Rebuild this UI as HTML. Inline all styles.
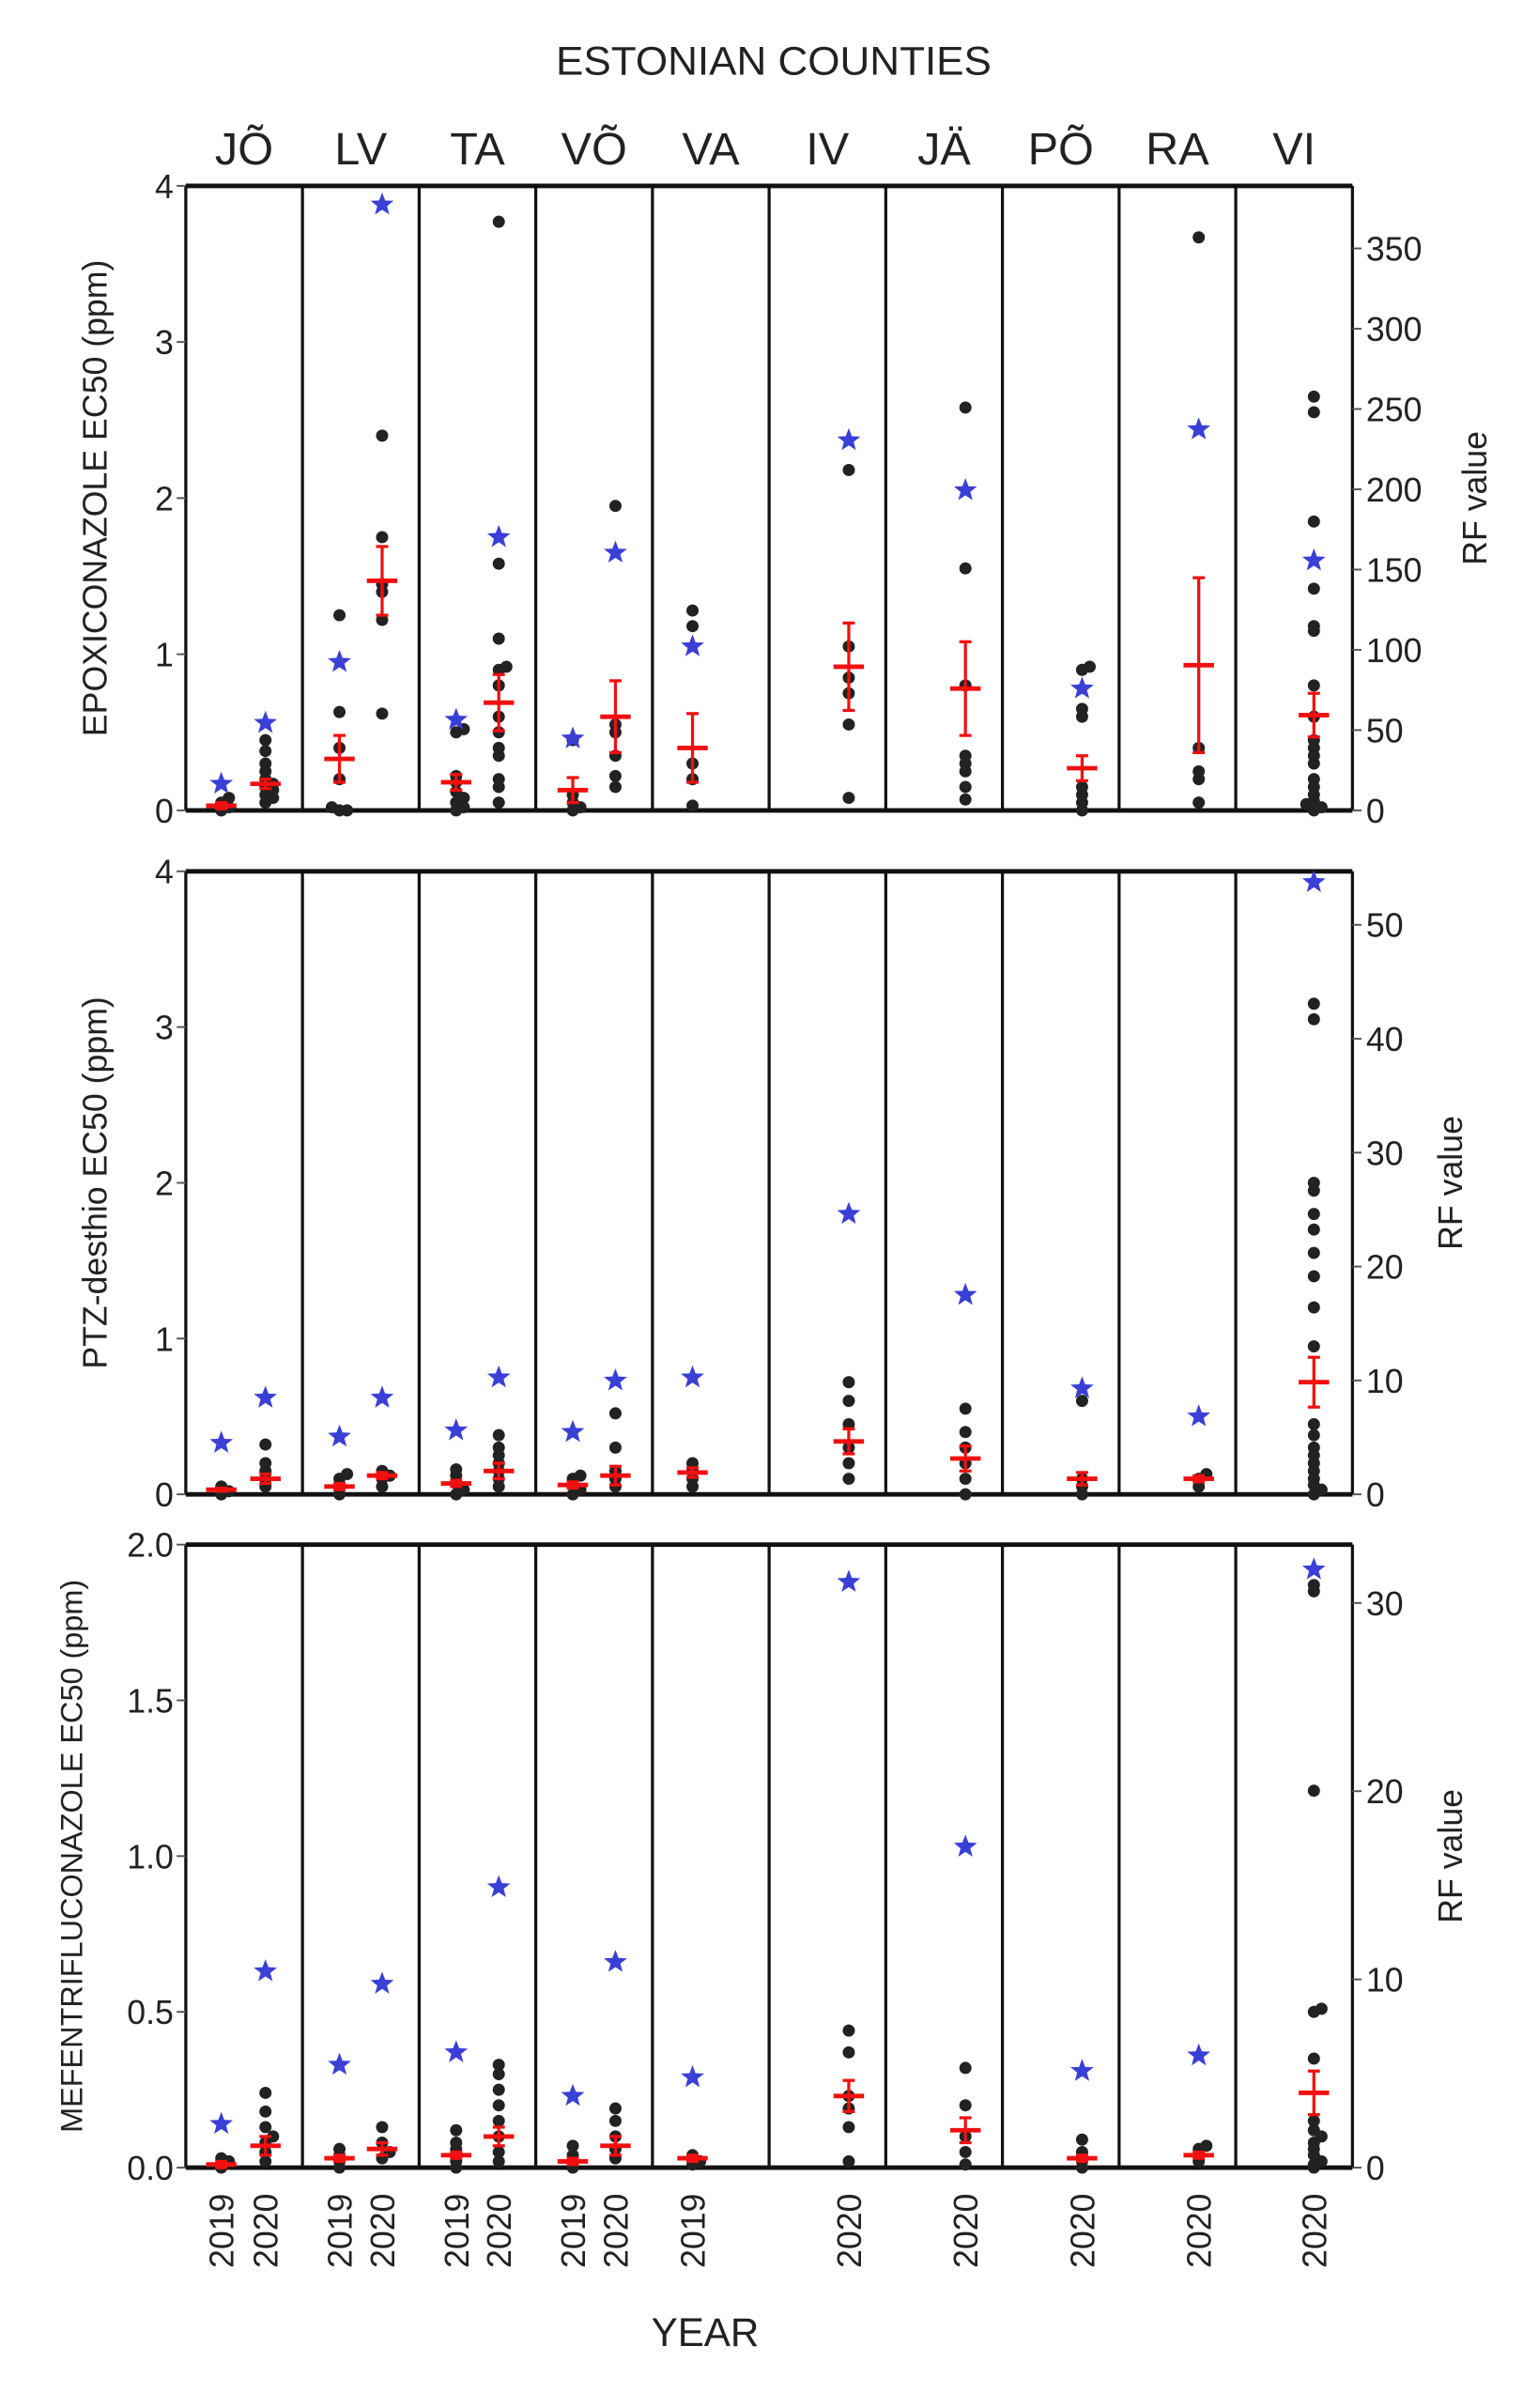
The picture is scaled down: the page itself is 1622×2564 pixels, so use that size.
<!DOCTYPE html>
<html><head><meta charset="utf-8"><style>
html,body{margin:0;padding:0;background:#fff;}
svg{display:block;}
text{font-family:"Liberation Sans",sans-serif;fill:#222;}
</style></head><body>
<svg id="s" width="1622" height="2564" viewBox="0 0 1000 1580.8" preserveAspectRatio="none" xmlns="http://www.w3.org/2000/svg"></svg>
<script>
const S=document.getElementById('s');let h='';
const L=122,R=888,CW=(R-L)/10;
h+='<text x="508" y="49" font-size="26" text-anchor="middle" textLength="286" lengthAdjust="spacingAndGlyphs">ESTONIAN COUNTIES</text>';
const names=['JÕ','LV','TA','VÕ','VA','IV','JÄ','PÕ','RA','VI'];
names.forEach((n,i)=>{h+=`<text x="${L+CW*(i+0.5)}" y="108" font-size="30" text-anchor="middle">${n}</text>`;});
function cx(c,o){return L+CW*(c+0.5)+o;}
const panels=[
{top:122,bot:532,max:4,lt:[0,1,2,3,4],lf:v=>v,rmax:389,rt:[0,50,100,150,200,250,300,350],title:'EPOXICONAZOLE EC50 (ppm)',tfs:22,tx:70,
data:[[0,-15,[0,0.02,0.05,0.08],0.03,0.02,0.17],[0,14,[0.05,0.08,0.1,0.13,0.15,0.17,0.2,0.25,0.3,0.38,0.45],0.17,0.03,0.56],
[1,-14,[0,0,0.02,0.2,0.4,0.63,1.25],0.33,0.15,0.95],[1,14,[0.62,1.22,1.4,1.45,1.75,2.4],1.47,0.22,3.88],
[2,-14,[0,0.02,0.05,0.08,0.12,0.18,0.22,0.5,0.52],0.18,0.05,0.58],[2,14,[0.05,0.15,0.2,0.35,0.4,0.5,0.6,0.8,0.9,0.92,1.1,1.58,3.77],0.69,0.18,1.75],
[3,-14,[0,0.02,0.05,0.1,0.45],0.13,0.08,0.46],[3,14,[0.15,0.22,0.35,0.5,0.55,1.95],0.6,0.23,1.65],
[4,-12,[0.03,0.2,0.3,1.18,1.28],0.4,0.22,1.05],[5,14,[0.08,0.55,0.75,0.85,1.05,2.18],0.92,0.28,2.37],
[6,14,[0.07,0.15,0.25,0.3,0.35,0.8,1.55,2.58],0.78,0.3,2.05],[7,14,[0,0.05,0.1,0.15,0.6,0.65,0.9,0.92],0.27,0.08,0.78],
[8,14,[0.05,0.2,0.25,0.4,3.67],0.93,0.56,2.44],[9,13,[0,0.02,0.04,0.06,0.1,0.15,0.2,0.3,0.35,0.4,0.45,0.6,0.8,1.15,1.18,1.42,1.85,2.55,2.65],0.61,0.14,1.6]]},
{top:572,bot:981,max:4,lt:[0,1,2,3,4],lf:v=>v,rmax:54.7,rt:[0,10,20,30,40,50],title:'PTZ-desthio EC50 (ppm)',tfs:22,tx:70,
data:[[0,-15,[0,0.02,0.05],0.03,0.01,0.33],[0,14,[0.05,0.1,0.15,0.2,0.32],0.1,0.03,0.62],
[1,-14,[0,0.05,0.1,0.13],0.05,0.02,0.37],[1,14,[0.05,0.1,0.12,0.15],0.12,0.02,0.62],
[2,-14,[0,0.03,0.07,0.12,0.16],0.07,0.02,0.41],[2,14,[0.05,0.1,0.15,0.2,0.25,0.3,0.38],0.15,0.05,0.75],
[3,-14,[0,0.03,0.1,0.12],0.06,0.02,0.4],[3,14,[0.05,0.1,0.15,0.3,0.52],0.12,0.06,0.73],
[4,-12,[0.05,0.1,0.15,0.2],0.14,0.03,0.75],[5,14,[0.1,0.2,0.3,0.45,0.6,0.72],0.34,0.08,1.8],
[6,14,[0,0.1,0.2,0.3,0.4,0.55],0.23,0.08,1.28],[7,14,[0,0.05,0.1,0.6],0.1,0.04,0.68],
[8,14,[0.05,0.1,0.13],0.1,0.02,0.5],[9,13,[0,0.03,0.06,0.1,0.15,0.2,0.25,0.3,0.38,0.45,0.95,1.2,1.4,1.55,1.7,1.8,1.95,2.0,3.05,3.15],0.72,0.16,3.93]]},
{top:1014,bot:1423,max:2,lt:[0,0.5,1,1.5,2],lf:v=>v.toFixed(1),rmax:33.1,rt:[0,10,20,30],title:'MEFENTRIFLUCONAZOLE EC50 (ppm)',tfs:20,tx:54,
data:[[0,-15,[0,0.01,0.02,0.03],0.01,0.01,0.14],[0,14,[0.02,0.05,0.08,0.1,0.13,0.18,0.24],0.07,0.03,0.63],
[1,-14,[0,0.02,0.04,0.06],0.03,0.01,0.33],[1,14,[0.03,0.05,0.08,0.13],0.06,0.02,0.59],
[2,-14,[0,0.02,0.04,0.06,0.08,0.12],0.04,0.01,0.37],[2,14,[0.02,0.05,0.1,0.15,0.2,0.25,0.3,0.33],0.1,0.03,0.9],
[3,-14,[0,0.02,0.04,0.07],0.02,0.01,0.23],[3,14,[0.03,0.06,0.1,0.15,0.19],0.07,0.03,0.66],
[4,-12,[0.01,0.02,0.04],0.03,0.01,0.29],[5,14,[0.02,0.13,0.19,0.23,0.37,0.44],0.23,0.05,1.88],
[6,14,[0.01,0.05,0.1,0.2,0.32],0.12,0.04,1.03],[7,14,[0,0.02,0.05,0.09],0.03,0.01,0.31],
[8,14,[0.02,0.04,0.06,0.07],0.04,0.01,0.36],[9,13,[0,0.01,0.02,0.04,0.06,0.08,0.1,0.12,0.15,0.35,0.5,0.51,1.21,1.85,1.87],0.24,0.07,1.92]]}];
function star(x,y,r){let p=[];for(let i=0;i<10;i++){const a=-Math.PI/2+i*Math.PI/5,rr=i%2?r*0.42:r;p.push((x+rr*Math.cos(a)).toFixed(1)+','+(y+rr*Math.sin(a)).toFixed(1));}return `<polygon points="${p.join(' ')}" fill="#3a3fd6"/>`;}
panels.forEach(P=>{
 const Y=v=>P.bot-(P.bot-P.top)*v/P.max;
 for(let i=1;i<10;i++){const x=L+CW*i;h+=`<line x1="${x}" y1="${P.top}" x2="${x}" y2="${P.bot}" stroke="#111" stroke-width="2"/>`;}
 h+=`<line x1="${L}" y1="${P.top}" x2="${L}" y2="${P.bot}" stroke="#111" stroke-width="2"/>`;
 h+=`<line x1="${R}" y1="${P.top}" x2="${R}" y2="${P.bot}" stroke="#111" stroke-width="2"/>`;
 h+=`<line x1="${L}" y1="${P.top}" x2="${R}" y2="${P.top}" stroke="#111" stroke-width="3"/>`;
 h+=`<line x1="${L}" y1="${P.bot}" x2="${R}" y2="${P.bot}" stroke="#111" stroke-width="3"/>`;
 P.lt.forEach(v=>{const y=Y(v);h+=`<line x1="${L-6}" y1="${y}" x2="${L}" y2="${y}" stroke="#555" stroke-width="1.2"/><text x="${L-8}" y="${y+8}" font-size="22" text-anchor="end">${P.lf(v)}</text>`;});
 P.rt.forEach(v=>{const y=P.bot-(P.bot-P.top)*v/P.rmax;h+=`<line x1="${R}" y1="${y}" x2="${R+6}" y2="${y}" stroke="#555" stroke-width="1.2"/><text x="${R+9}" y="${y+8}" font-size="22">${v}</text>`;});
 const mid=(P.top+P.bot)/2;
 h+=`<text transform="translate(${P.tx},${mid}) rotate(-90)" font-size="${P.tfs}" text-anchor="middle">${P.title}</text>`;
 h+=`<text transform="translate(${P===panels[0]?976:960},${mid}) rotate(-90)" font-size="22" text-anchor="middle">RF value</text>`;
 P.data.forEach(d=>{const x=cx(d[0],d[1]);const cnt={};
  d[2].forEach(v=>{const k=Math.round(Y(v)/5);cnt[k]=(cnt[k]||0)+1;const n=cnt[k]-1;const off=n===0?0:(n%2?1:-1)*Math.ceil(n/2)*5;h+=`<circle cx="${x+off}" cy="${Y(v)}" r="4" fill="#222"/>`;});
  const m=Y(d[3]),a=Y(d[3]+d[4]),b=Y(Math.max(0,d[3]-d[4]));
  h+=`<g stroke="#f01010" stroke-width="2"><line x1="${x}" y1="${a}" x2="${x}" y2="${b}"/><line x1="${x-4}" y1="${a}" x2="${x+4}" y2="${a}"/><line x1="${x-4}" y1="${b}" x2="${x+4}" y2="${b}"/><line x1="${x-10}" y1="${m}" x2="${x+10}" y2="${m}" stroke-width="3"/></g>`;
  h+=star(x,Y(d[5]),8);});
});
const yrs=[[0,-15,'2019'],[0,14,'2020'],[1,-14,'2019'],[1,14,'2020'],[2,-14,'2019'],[2,14,'2020'],[3,-14,'2019'],[3,14,'2020'],[4,-12,'2019'],[5,14,'2020'],[6,14,'2020'],[7,14,'2020'],[8,14,'2020'],[9,13,'2020']];
yrs.forEach(y=>{h+=`<text transform="translate(${cx(y[0],y[1])+8},1440) rotate(-90)" font-size="22" text-anchor="end">${y[2]}</text>`;});
h+='<text x="463" y="1540" font-size="26" text-anchor="middle">YEAR</text>';
S.innerHTML=h;
</script>
</body></html>
